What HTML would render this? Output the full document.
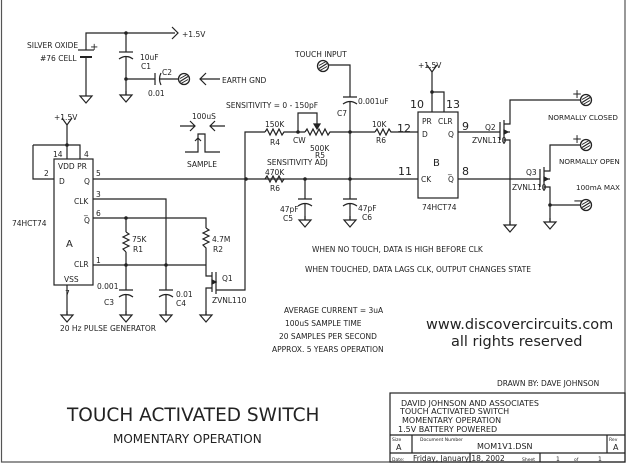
<!DOCTYPE html>
<html><head><meta charset="utf-8"><style>
html,body{margin:0;padding:0;background:#fff;}
svg{display:block;}
text{font-family:"DejaVu Sans","Liberation Sans",sans-serif;fill:#222;}
.s{font-size:7.5px;}
.n{font-size:11px;font-family:"Liberation Sans",sans-serif;fill:#555;}
</style></head><body>
<svg width="630" height="464" viewBox="0 0 630 464" xmlns="http://www.w3.org/2000/svg">
<defs>
<g id="gnd"><line x1="0" y1="0" x2="0" y2="4" stroke="#222" stroke-width="1.2"/><path d="M-6 4 H6 L0 11 Z" fill="none" stroke="#222" stroke-width="1.2"/></g>
<g id="term"><circle cx="0" cy="0" r="5.5" fill="#fff" stroke="#222" stroke-width="1.3"/><line x1="-4" y1="2.5" x2="4" y2="-2.5" stroke="#222" stroke-width="1.1"/><line x1="-4" y1="-0.5" x2="3" y2="-4.5" stroke="#222" stroke-width="1"/><line x1="-3" y1="4.5" x2="4" y2="0.5" stroke="#222" stroke-width="1"/></g>
</defs>
<g fill="none" stroke="#222" stroke-width="1.2">
<path d="M1.5 0 V462 H625 V0" stroke="#555"/>
<rect x="390" y="393" width="235" height="69"/>
<line x1="390" y1="435" x2="625" y2="435"/>
<line x1="390" y1="453" x2="625" y2="453"/>
<line x1="412" y1="435" x2="412" y2="453"/>
<line x1="607" y1="435" x2="607" y2="453"/>
<line x1="470" y1="453" x2="470" y2="462"/><line x1="540" y1="453" x2="540" y2="462"/>

<path d="M86 50 V33 H175"/><path d="M172 27 L178 33 L172 39"/>
<line x1="78" y1="50" x2="94" y2="50"/><line x1="80" y1="57" x2="92" y2="57" stroke-width="2"/>
<line x1="86" y1="57" x2="86" y2="92"/>
<line x1="126" y1="33" x2="126" y2="52"/><line x1="119" y1="52" x2="133" y2="52"/>
<path d="M119 59 Q126 54 133 59"/><line x1="126" y1="56" x2="126" y2="95"/>
<path d="M126 79 H155 M155 73 V85 M161 73 Q158 79 161 85 M159 79 H179"/>
<path d="M206 73 L200 79 L206 85 M200 79 H220"/>

<rect x="54" y="159" width="39" height="126"/>
<path d="M67 125 V159 M33 145 H80 V159 M33 145 V179 H54"/>
<path d="M62 118 L67 125 L72 118"/>
<path d="M93 179 H418 M93 199 H166 V265 M93 218 H206 V228 M206 250 V272 M93 265 H206 M126 218 V232 M126 252 V290 M67 285 V315"/>
<path d="M126 232 l3 2 l-6 3 l6 3 l-6 3 l6 3 l-6 3 l3 3"/>
<path d="M206 228 l3 2 l-6 3 l6 3 l-6 3 l6 3 l-6 3 l3 3 V250"/>
<path d="M119 290 H133 M119 297 Q126 292 133 297 M126 294 V315"/>
<path d="M166 265 V290 M159 290 H173 M159 297 Q166 292 173 297 M166 294 V315"/>
<path d="M206 272 V276 H212 M212 272 V292 M212 288 H206 V315 M216 272 V294 M216 290 H245 V132 H265"/>
<path d="M216 282 L212 280 L212 284 Z" fill="#222"/>
<path d="M180 126 H195 M190 121 L195 126 L190 131 M225 126 H210 M215 121 L210 126 L215 131"/>
<path d="M185 152 H198 V134 H205 V152 H220 M198 149 V138 M195 141 L198 138 L201 141"/>

<path d="M265 132 l2 -3 l3 6 l3 -6 l3 6 l3 -6 l3 6 l2 -3 H305"/>
<path d="M305 132 l2 -3 l3 6 l3 -6 l3 6 l3 -6 l3 6 l3 -6 l3 6 l2 -3 H375"/>
<path d="M298 132 V113 H317 V126"/><path d="M314 124 L317 129 L320 124 Z" fill="#222"/>
<path d="M265 179 l2 -3 l3 6 l3 -6 l3 6 l3 -6 l3 6 l2 -3"/>
<path d="M305 179 V199 M298 199 H312 M298 206 Q305 201 312 206 M305 203 V220"/>
<path d="M350 179 V199 M343 199 H357 M343 206 Q350 201 357 206 M350 203 V220"/>
<path d="M328 65 H350 V97 M343 97 H357 M343 104 Q350 99 357 104 M350 102 V179"/>
<path d="M375 132 l2 -3 l3 6 l3 -6 l3 6 l3 -6 l2 3 H418"/>
<rect x="418" y="112" width="40" height="86"/>
<path d="M432 72 V112 M432 92 H444 V112"/><path d="M427 65 L432 72 L437 65"/>
<path d="M458 132 H500 M458 179 H540"/>
<path d="M500 122 V140 M504 120 V144 M504 124 H510 V100 H580 M504 140 H510 V225"/>
<path d="M504 132 H510 M508 132 L504 130 L504 134 Z" fill="#222"/>
<path d="M540 169 V187 M544 167 V191 M544 171 H550 V145 H580 M544 187 H550 V222 M550 205 H580"/>
<path d="M544 179 H550 M548 179 L544 177 L544 181 Z" fill="#222"/>
</g>
<g fill="#222">
<circle cx="126" cy="33" r="1.8"/><circle cx="126" cy="79" r="1.8"/><circle cx="67" cy="145" r="1.8"/>
<circle cx="126" cy="218" r="1.8"/><circle cx="126" cy="265" r="1.8"/><circle cx="166" cy="265" r="1.8"/>
<circle cx="246" cy="179" r="1.8"/><circle cx="305" cy="179" r="1.8"/><circle cx="350" cy="179" r="1.8"/>
<circle cx="298" cy="132" r="1.8"/><circle cx="350" cy="132" r="1.8"/><circle cx="432" cy="92" r="1.8"/>
<circle cx="550" cy="205" r="1.8"/>
</g>
<use href="#gnd" x="86" y="92"/><use href="#gnd" x="126" y="91"/>
<use href="#gnd" x="67" y="311"/><use href="#gnd" x="126" y="311"/><use href="#gnd" x="166" y="311"/><use href="#gnd" x="206" y="311"/>
<use href="#gnd" x="305" y="216"/><use href="#gnd" x="350" y="216"/><use href="#gnd" x="510" y="221"/><use href="#gnd" x="550" y="218"/>
<use href="#term" x="184" y="79"/><use href="#term" x="323" y="66"/>
<use href="#term" x="586" y="100"/><use href="#term" x="586" y="145"/><use href="#term" x="586" y="205"/>

<g class="s">
<text x="27" y="48">SILVER OXIDE</text><text x="40" y="61">#76 CELL</text>
<text x="90" y="50" font-size="10">+</text>
<text x="182" y="37">+1.5V</text>
<text x="140" y="60">10uF</text><text x="141" y="69">C1</text>
<text x="162" y="75">C2</text><text x="148" y="96">0.01</text>
<text x="222" y="83">EARTH GND</text>
<text x="54" y="120">+1.5V</text>
<text x="53" y="157">14</text><text x="84" y="157">4</text><text x="44" y="176">2</text>
<text x="58" y="169">VDD PR</text><text x="59" y="184">D</text><text x="84" y="184">Q</text>
<text x="96" y="176">5</text><text x="96" y="197">3</text><text x="96" y="216">6</text><text x="96" y="263">1</text>
<text x="74" y="204">CLK</text><text x="84" y="223">Q</text><text x="84" y="214">_</text>
<text x="74" y="267">CLR</text><text x="64" y="282">VSS</text><text x="65" y="296">7</text>
<text x="12" y="226">74HCT74</text>
<text x="66" y="247" font-size="10">A</text>
<text x="132" y="242">75K</text><text x="133" y="252">R1</text>
<text x="212" y="242">4.7M</text><text x="213" y="252">R2</text>
<text x="97" y="289">0.001</text><text x="104" y="305">C3</text>
<text x="176" y="297">0.01</text><text x="176" y="306">C4</text>
<text x="222" y="281">Q1</text><text x="212" y="303">ZVNL110</text>
<text x="60" y="331">20 Hz PULSE GENERATOR</text>
<text x="192" y="119">100uS</text><text x="187" y="167">SAMPLE</text>
<text x="226" y="108">SENSITIVITY = 0 - 150pF</text>
<text x="265" y="127">150K</text><text x="270" y="145">R4</text><text x="293" y="143">CW</text>
<text x="310" y="151">500K</text><text x="315" y="158">R5</text>
<text x="267" y="165">SENSITIVITY ADJ</text>
<text x="265" y="175">470K</text><text x="270" y="191">R6</text>
<text x="280" y="212">47pF</text><text x="283" y="221">C5</text>
<text x="358" y="211">47pF</text><text x="362" y="220">C6</text>
<text x="295" y="57">TOUCH INPUT</text>
<text x="358" y="104">0.001uF</text><text x="337" y="116">C7</text>
<text x="372" y="127">10K</text><text x="376" y="143">R6</text>
<text x="418" y="68">+1.5V</text>
<text x="422" y="124">PR</text><text x="438" y="124">CLR</text>
<text x="422" y="137">D</text><text x="448" y="137">Q</text>
<text x="421" y="182">CK</text><text x="448" y="182">Q</text><text x="448" y="173">_</text>
<text x="433" y="166" font-size="10">B</text>
<text x="422" y="210">74HCT74</text>
<text x="485" y="130">Q2</text><text x="472" y="143">ZVNL110</text>
<text x="526" y="175">Q3</text><text x="512" y="190">ZVNL110</text>
<text x="548" y="120" font-size="7.2">NORMALLY CLOSED</text>
<text x="559" y="164" font-size="7.2">NORMALLY OPEN</text>
<text x="576" y="190" font-size="7.2">100mA MAX</text>
<text x="312" y="252">WHEN NO TOUCH, DATA IS HIGH BEFORE CLK</text>
<text x="305" y="272">WHEN TOUCHED, DATA LAGS CLK, OUTPUT CHANGES STATE</text>
<text x="284" y="313">AVERAGE CURRENT = 3uA</text>
<text x="285" y="326">100uS SAMPLE TIME</text>
<text x="279" y="339">20 SAMPLES PER SECOND</text>
<text x="272" y="352">APPROX. 5 YEARS OPERATION</text>
<text x="497" y="386">DRAWN BY: DAVE JOHNSON</text>
<text x="401" y="406" font-size="8">DAVID JOHNSON AND ASSOCIATES</text>
<text x="400" y="414" font-size="8">TOUCH ACTIVATED SWITCH</text>
<text x="402" y="423" font-size="8">MOMENTARY OPERATION</text>
<text x="398" y="432" font-size="8">1.5V BATTERY POWERED</text>
<text x="392" y="441" font-size="4.5">Size</text><text x="396" y="450" font-size="8">A</text>
<text x="420" y="441" font-size="4.5">Document Number</text><text x="477" y="449" font-size="8">MOM1V1.DSN</text>
<text x="609" y="441" font-size="4.5">Rev</text><text x="613" y="450" font-size="8">A</text>
<text x="392" y="461" font-size="4.5">Date:</text><text x="413" y="461" font-size="7.5">Friday, January 18, 2002</text>
<text x="522" y="461" font-size="4.5">Sheet</text><text x="556" y="461" font-size="6">1</text><text x="574" y="461" font-size="4.5">of</text><text x="598" y="461" font-size="6">1</text>
</g>
<g class="n">
<text x="410" y="108">10</text><text x="446" y="108">13</text><text x="397" y="132">12</text>
<text x="462" y="130">9</text><text x="398" y="175">11</text><text x="462" y="175">8</text>
<text x="572" y="98" font-size="12">+</text><text x="572" y="143" font-size="12">+</text><text x="573" y="205" font-size="13">−</text>
</g>
<text x="426" y="329" font-size="14.5" font-family="Liberation Sans" fill="#111">www.discovercircuits.com</text>
<text x="451" y="346" font-size="14.5" font-family="Liberation Sans" fill="#111">all rights reserved</text>
<text x="67" y="421" font-size="18.5" font-family="Liberation Sans" fill="#222">TOUCH ACTIVATED SWITCH</text>
<text x="113" y="443" font-size="12" font-family="Liberation Sans" fill="#222">MOMENTARY OPERATION</text>
</svg>
</body></html>
